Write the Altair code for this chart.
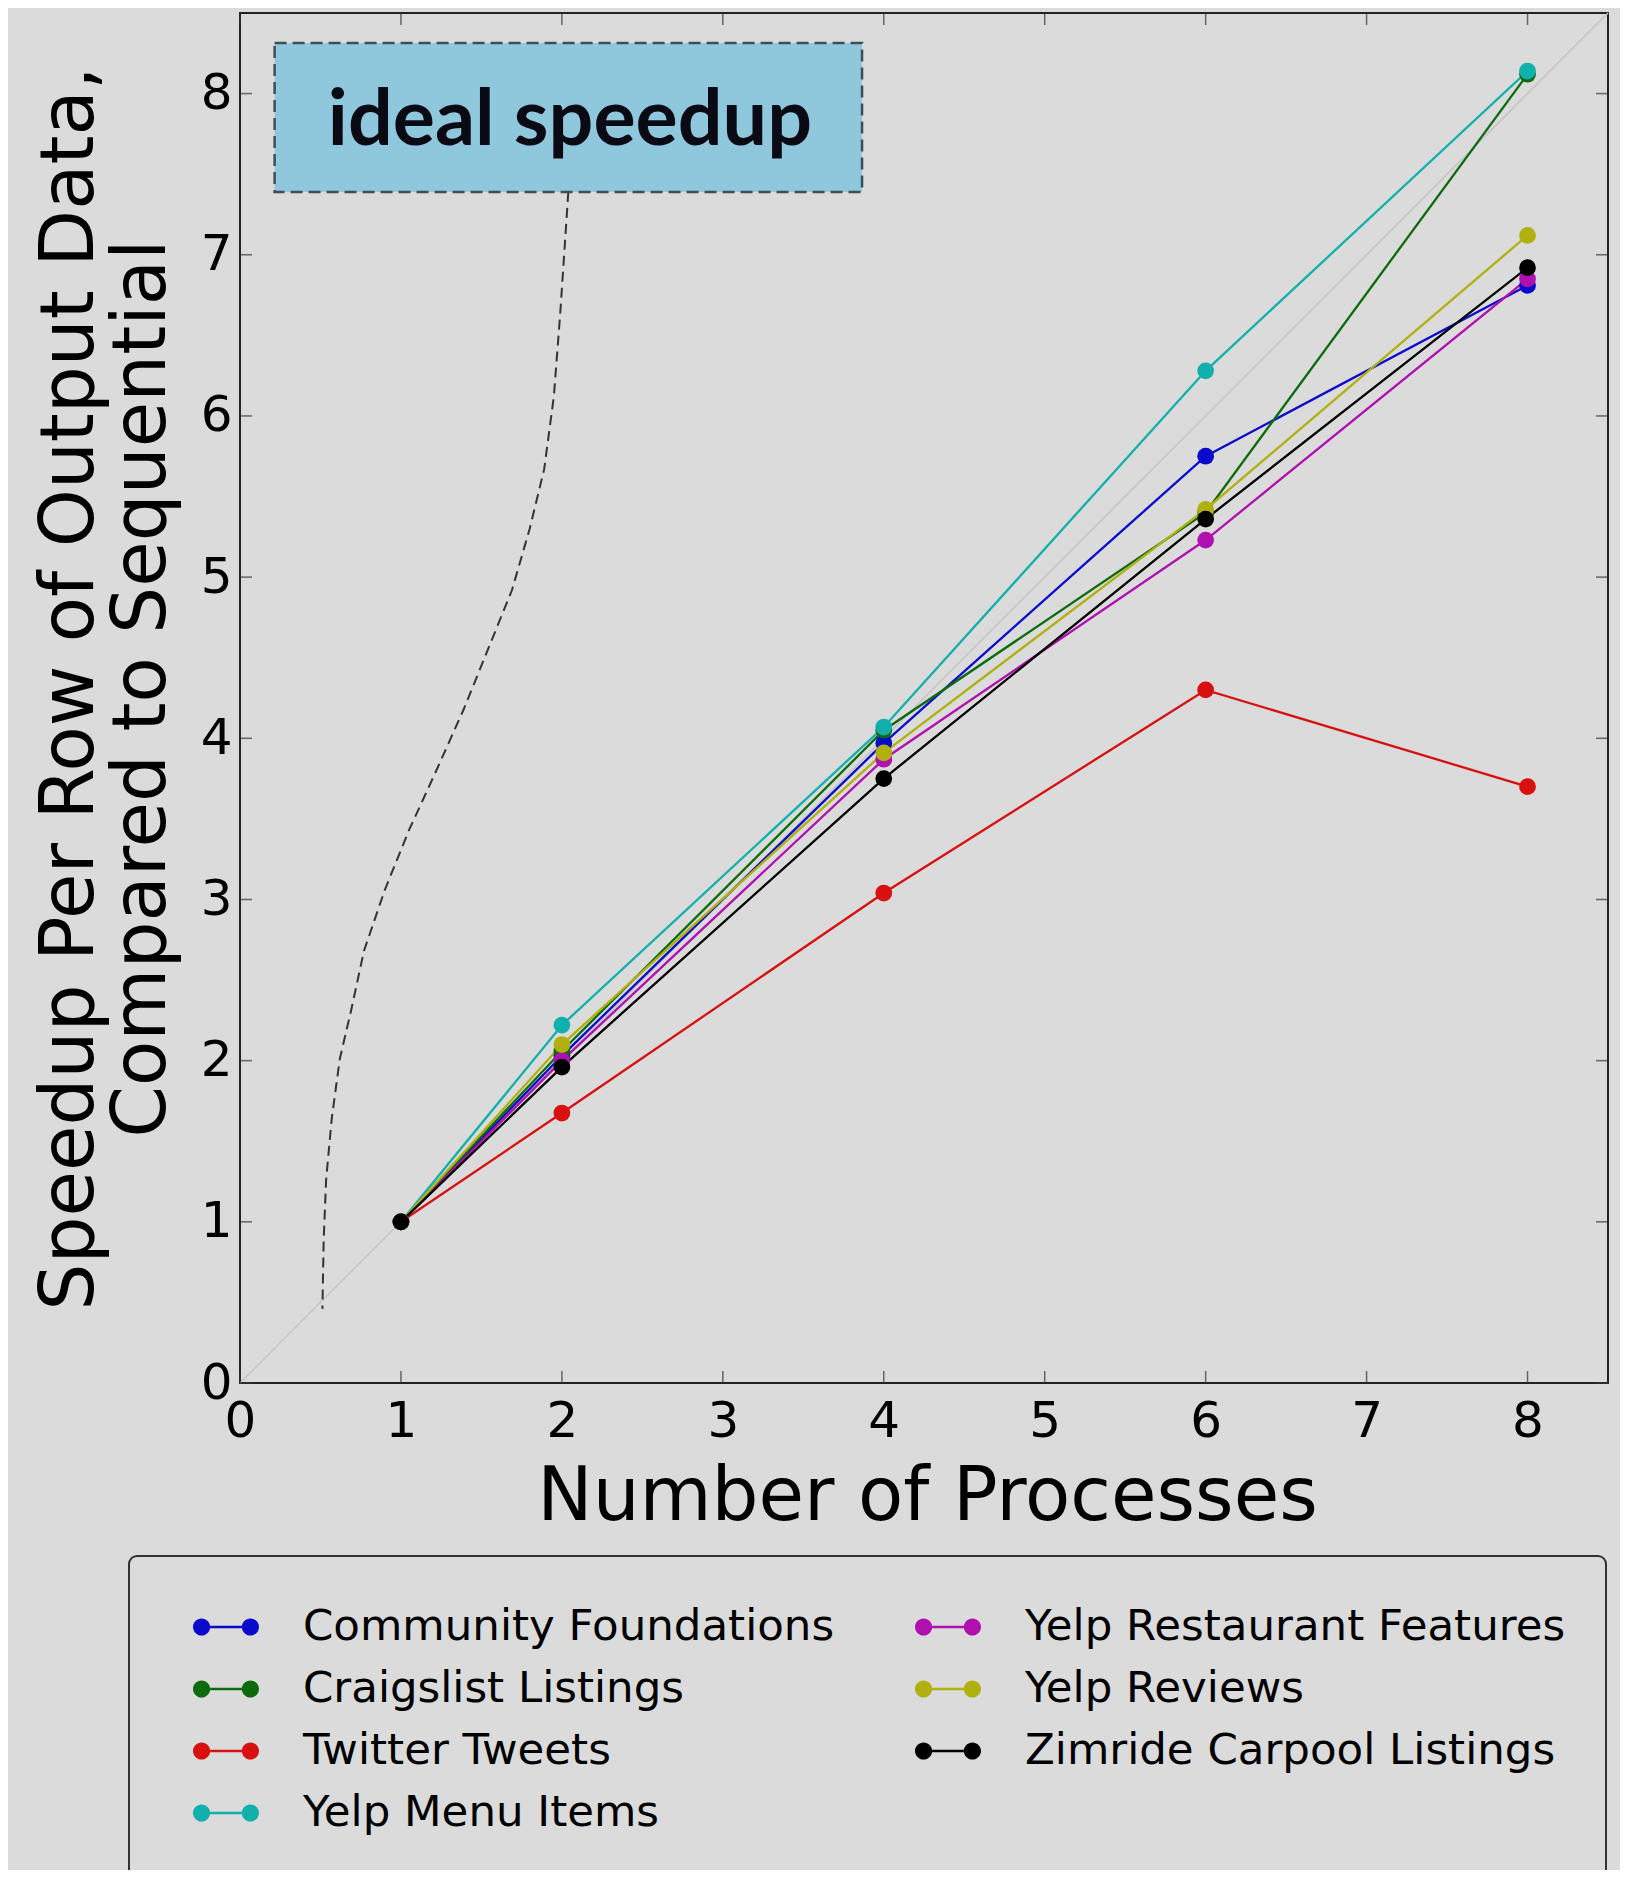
import altair as alt
import pandas as pd

# ---------------- data ----------------
procs = [1, 2, 4, 6, 8]
series_names = [
    "Community Foundations", "Craigslist Listings", "Twitter Tweets",
    "Yelp Menu Items", "Yelp Restaurant Features", "Yelp Reviews",
    "Zimride Carpool Listings",
]
community = [1.00, 2.03, 3.97, 5.75, 6.81]
craigslist = [1.00, 2.06, 4.05, 5.40, 8.12]
twitter = [1.00, 1.675, 3.04, 4.30, 3.70]
menu_items = [1.00, 2.22, 4.07, 6.28, 8.14]
restaurant = [1.00, 2.00, 3.87, 5.23, 6.85]
reviews = [1.00, 2.10, 3.91, 5.42, 7.12]
zimride = [1.00, 1.96, 3.75, 5.36, 6.92]
series_values = [community, craigslist, twitter, menu_items, restaurant, reviews, zimride]
series_colors = ["#0a0acc", "#0d6b0d", "#d81010", "#12b0ac", "#b010b0", "#b0b010", "#000000"]

ideal_x = [0.0, 8.5]
ideal_y = [0.0, 8.5]

arrow_x = [2.04, 2.02, 1.99, 1.95, 1.89, 1.80, 1.69, 1.54, 1.39, 1.22, 1.05, 0.90,
           0.77, 0.69, 0.62, 0.57, 0.535, 0.52, 0.512]
arrow_y = [7.39, 7.09, 6.64, 6.12, 5.67, 5.30, 4.92, 4.55, 4.18, 3.80, 3.43, 3.06,
           2.68, 2.31, 2.01, 1.64, 1.26, 0.89, 0.46]

tick_values = [0, 1, 2, 3, 4, 5, 6, 7, 8]
annotation_text = "ideal speedup"

# ---------------- frames ----------------
rows = []
for name, vals in zip(series_names, series_values):
    for p, v in zip(procs, vals):
        rows.append({"series": name, "procs": p, "speedup": v})
df = pd.DataFrame(rows)

ideal_df = pd.DataFrame({"x": ideal_x, "y": ideal_y})
arrow_df = pd.DataFrame({"x": arrow_x, "y": arrow_y, "i": list(range(len(arrow_x)))})
ticks_df = pd.DataFrame({"t": tick_values})
box_df = pd.DataFrame({"x": [0.215], "x2": [3.865], "y": [7.389], "y2": [8.314]})
text_df = pd.DataFrame({"x": [2.05], "y": [7.68], "label": [annotation_text]})

W, H = 1368, 1370
BG = "#dadbda"
FONT = "DejaVu Sans"

xs = alt.Scale(domain=[0, 8.5], nice=False, zero=False)
ys = alt.Scale(domain=[0, 8.5], nice=False, zero=False)

x_axis = alt.Axis(
    values=tick_values, title="Number of Processes", grid=False, domain=False,
    ticks=False, labelFontSize=50, labelFont=FONT, labelColor="black",
    labelPadding=13, labelFlush=False, labelOverlap=False, labelBound=False,
    titleFont=FONT, titleFontSize=74, titleFontWeight="normal", titleColor="black",
    titleY=136, titleBaseline="alphabetic", titleX=W / 2 + 3, titleAlign="center",
)
y_axis = alt.Axis(
    values=tick_values, title=["Speedup Per Row of Output Data,", "Compared to Sequential"],
    grid=False, domain=False, ticks=False, labelFontSize=50, labelFont=FONT,
    labelColor="black", labelPadding=8, labelFlush=False, labelOverlap=False,
    labelBound=False, titleFont=FONT, titleFontSize=74, titleFontWeight="normal",
    titleColor="black", titleAngle=270, titleX=-148, titleY=675, titleAlign="center",
    titleBaseline="alphabetic", titleLineHeight=72,
)


def X(field):
    return alt.X(field, scale=xs, axis=x_axis)


def Y(field):
    return alt.Y(field, scale=ys, axis=y_axis)


SYM = ("M-1,0A0.26,0.26,0,1,0,-0.48,0A0.26,0.26,0,1,0,-1,0Z"
       "M0.48,0A0.26,0.26,0,1,0,1,0A0.26,0.26,0,1,0,0.48,0Z"
       "M-0.48,-0.035H0.48V0.035H-0.48Z")

legend = alt.Legend(
    title=None, orient="none", legendX=-111, legendY=1543, columns=2,
    symbolType=SYM, symbolSize=66 * 66, symbolStrokeWidth=0, symbolOffset=24,
    labelFont=FONT, labelFontSize=43.5, labelColor="black", labelLimit=900,
    labelOffset=44, clipHeight=62, rowPadding=0, columnPadding=56,
    padding=40, strokeColor="#333333", fillColor=BG, cornerRadius=8,
)
color_enc = alt.Color("series:N", scale=alt.Scale(domain=series_names, range=series_colors),
                      legend=legend)

ideal = alt.Chart(ideal_df).mark_line(color="#c4c4c4", strokeWidth=1.5).encode(
    x=X("x:Q"), y=Y("y:Q"))

arrow = alt.Chart(arrow_df).mark_line(color="#333333", strokeWidth=2, strokeDash=[10, 6]).encode(
    x=X("x:Q"), y=Y("y:Q"), order="i:Q")

box = alt.Chart(box_df).mark_rect(fill="#8fc7dc", stroke="#3d4f57", strokeWidth=2.5,
                                  strokeDash=[12, 6]).encode(
    x=X("x:Q"), x2="x2:Q", y=Y("y:Q"), y2="y2:Q")

label = alt.Chart(text_df).mark_text(font="Lato", fontWeight="bold", fontSize=79,
                                     color="#0a0a14", align="center",
                                     baseline="alphabetic").encode(
    x=X("x:Q"), y=Y("y:Q"), text="label:N")

lines = alt.Chart(df).mark_line(strokeWidth=2.3).encode(
    x=X("procs:Q"), y=Y("speedup:Q"), color=color_enc)
points = alt.Chart(df).mark_point(filled=True, size=280, opacity=1).encode(
    x=X("procs:Q"), y=Y("speedup:Q"), color=color_enc)

TK = dict(color="#333333", thickness=1.5, size=12)
t_bottom = alt.Chart(ticks_df).mark_tick(orient="vertical", **TK).encode(
    x=X("t:Q"), y=alt.value(H - 6))
t_top = alt.Chart(ticks_df).mark_tick(orient="vertical", **TK).encode(
    x=X("t:Q"), y=alt.value(6))
t_left = alt.Chart(ticks_df).mark_tick(orient="horizontal", **TK).encode(
    y=Y("t:Q"), x=alt.value(6))
t_right = alt.Chart(ticks_df).mark_tick(orient="horizontal", **TK).encode(
    y=Y("t:Q"), x=alt.value(W - 6))

chart = alt.layer(
    ideal, arrow, box, label, lines, points, t_bottom, t_top, t_left, t_right
).properties(
    width=W, height=H, background=BG,
    autosize=alt.AutoSizeParams(type="none"),
    padding={"left": 232, "top": 5, "right": 12, "bottom": 487},
).configure_view(
    stroke="#222222", strokeWidth=2,
).configure_legend(
    strokeWidth=2,
)

chart.save("out.html", embed_options={"renderer": "svg", "actions": False})
